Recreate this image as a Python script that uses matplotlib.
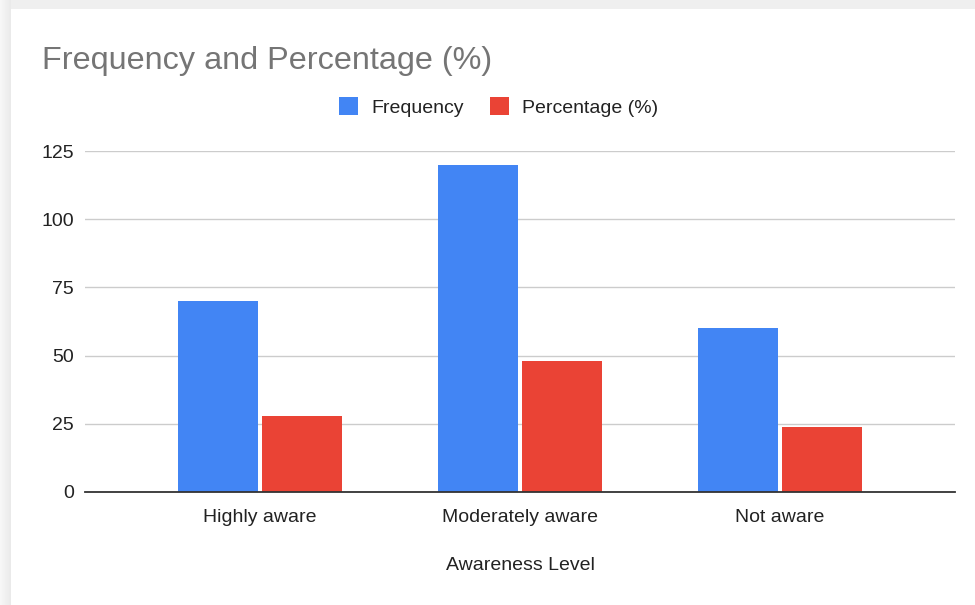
import numpy as np
import matplotlib
matplotlib.use('Agg')
import matplotlib.pyplot as plt

plt.rcParams['font.family'] = ['Liberation Sans', 'DejaVu Sans']

# awareness survey counts (n = 250)
categories = ['Highly aware', 'Moderately aware', 'Not aware']
frequency = [70, 120, 60]
percentage = [28, 48, 24]
y_ticks = [0, 25, 50, 75, 100, 125]

blue = '#4285F4'
red = '#EA4335'

W, H = 975, 605
fig = plt.figure(figsize=(W / 100, H / 100), dpi=100)

# grey page edge around the chart card
bg = fig.add_axes([0, 0, 1, 1], zorder=-10)
page = np.ones((H, W, 3))
page[:9, :, :] = 0.94
page[:, :11, :] = np.linspace(0.97, 0.92, 11)[None, :, None]
bg.imshow(page, aspect='auto', interpolation='nearest')
bg.set_axis_off()

ax = fig.add_axes([85 / W, 113 / H, 870 / W, 341 / H])
x = np.arange(len(categories))
bw = 0.31
ax.bar(x - 0.162, frequency, bw, color=blue, label='Frequency', zorder=3)
ax.bar(x + 0.162, percentage, bw, color=red, label='Percentage (%)', zorder=3)

ax.set_xlim(-0.673, 2.673)
ax.set_ylim(0, 125)
ax.set_yticks(y_ticks)
ax.set_xticks(x)
ax.set_xticklabels(categories)
ax.tick_params(axis='both', length=0, labelsize=14, colors='#222222')
ax.tick_params(axis='y', pad=8)
ax.tick_params(axis='x', pad=12)
ax.grid(axis='y', color='#cccccc', linewidth=1, zorder=0)
for s in ['top', 'right', 'left']:
    ax.spines[s].set_visible(False)
ax.spines['bottom'].set_color('#333333')
ax.spines['bottom'].set_linewidth(1.3)
ax.spines['bottom'].set_zorder(4)

fig.text(42 / W, 1 - 69 / H, 'Frequency and Percentage (%)', fontsize=23.3,
         color='#757575', va='baseline', ha='left')
fig.text(520 / W, 1 - 566 / H, 'Awareness Level', fontsize=14,
         color='#222222', ha='center', va='center')

ax.legend(loc='center', bbox_to_anchor=(498.5 / W, 1 - 107 / H),
          bbox_transform=fig.transFigure, ncol=2, frameon=False, fontsize=14,
          handlelength=1.0, handleheight=1.0, handletextpad=0.67,
          columnspacing=1.34, borderpad=0, labelcolor='#222222')

fig.savefig('out.png', dpi=100)
